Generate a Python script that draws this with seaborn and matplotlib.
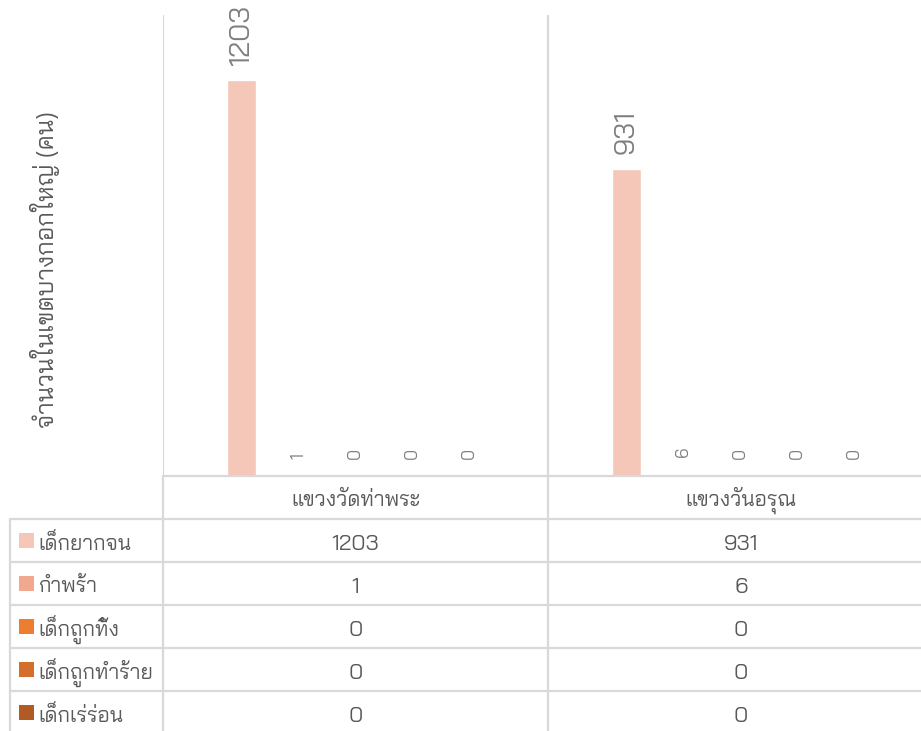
import matplotlib
matplotlib.use("Agg")
import matplotlib.pyplot as plt
import pandas as pd
import seaborn as sns

# ---- data -------------------------------------------------------------
districts = ["แขวงวัดท่าพระ", "แขวงวันอรุณ"]
groups = ["เด็กยากจน", "กำพร้า", "เด็กถูกทิ้ง", "เด็กถูกทำร้าย", "เด็กเร่ร่อน"]
wat_tha_phra = [1203, 1, 0, 0, 0]
wat_arun = [931, 6, 0, 0, 0]
palette = ["#F4C7B8", "#F0A98E", "#ED7D31", "#D36F2B", "#B25A23"]
y_title = "จำนวนในเขตบางกอกใหญ่ (คน)"

values = {districts[0]: wat_tha_phra, districts[1]: wat_arun}
df = pd.DataFrame(
    [(d, g, v) for d in districts for g, v in zip(groups, values[d])],
    columns=["district", "group", "count"],
)

# ---- style ------------------------------------------------------------
sns.set_theme(style="white")
FONT = ["Bai Jamjuree", "DejaVu Sans"]
plt.rcParams["font.family"] = FONT
plt.rcParams["font.weight"] = "normal"
GRID = "#D9D9D9"
TXT = "#595959"
LBL = "#7F7F7F"

W, H = 921, 731
fig = plt.figure(figsize=(W / 100, H / 100), dpi=100)
fig.patch.set_facecolor("white")


def fx(x):
    return x / W


def fy(y):
    return 1 - y / H


# plot area: two 385 px wide category slots, the second one running
# slightly past the right edge of the canvas
left, slot, top, base = 163, 385, 15, 476
ax = fig.add_axes([fx(left), fy(base), fx(2 * slot), (base - top) / H])
sns.barplot(
    data=df, x="district", y="count", hue="group", hue_order=groups,
    palette=palette, width=0.74, gap=0.49, saturation=1,
    legend=False, ax=ax,
)
ax.set_xlim(-0.5, 1.5)
ax.set_ylim(0, 1400)
for s in ax.spines.values():
    s.set_visible(False)
ax.set_xticks([])
ax.set_yticks([])
ax.set_xlabel("")
ax.set_ylabel("")
for xv in (-0.5, 0.5, 1.5):
    ax.axvline(xv, color=GRID, lw=1.6, zorder=0)

# value labels above each bar
for i, cont in enumerate(ax.containers):
    ax.bar_label(
        cont, fmt="%d", rotation=90, color=LBL,
        fontsize=20.5 if i == 0 else 12.5,
        padding=11 if i == 0 else 12,
    )

# axis title
fig.text(fx(45), fy(270), y_title, rotation=90, ha="center", va="center",
         fontsize=17.5, color=TXT)

# ---- data table -------------------------------------------------------
row_top = [476, 519, 562, 605, 648, 691]
row_h = 43
col_c = [355.5, 741]


def hline(y, x0, x1):
    fig.add_artist(plt.Line2D([fx(x0), fx(x1)], [fy(y), fy(y)],
                              color=GRID, lw=1.6))


def vline(x, y0, y1):
    fig.add_artist(plt.Line2D([fx(x), fx(x)], [fy(y0), fy(y1)],
                              color=GRID, lw=1.6))


hline(476, 163, 921)
for y in row_top[1:]:
    hline(y, 10, 921)
vline(10, 519, 731)
vline(163, 476, 731)
vline(548, 476, 731)

for c, d in zip(col_c, districts):
    fig.text(fx(c), fy(row_top[0] + row_h / 2 + 3), d, ha="center",
             va="center", fontsize=15, color=TXT)

for r, (g, col) in enumerate(zip(groups, palette)):
    yc = row_top[r + 1] + row_h / 2
    fig.add_artist(plt.Rectangle((fx(19), fy(yc + 7)), fx(15), 15 / H,
                                 facecolor=col, edgecolor="none"))
    fig.text(fx(38), fy(yc + 3), g, ha="left", va="center",
             fontsize=15, color=TXT)
    for c, d in zip(col_c, districts):
        fig.text(fx(c), fy(yc + 4), str(values[d][r]), ha="center",
                 va="center", fontsize=16, color=TXT)

fig.savefig("out.png", dpi=100)
